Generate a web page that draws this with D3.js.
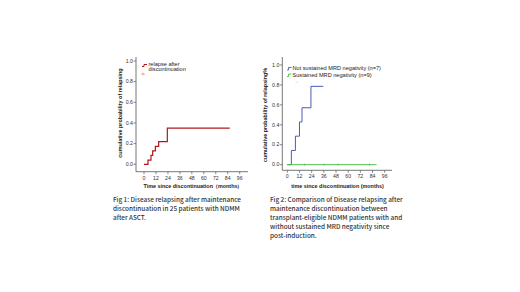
<!DOCTYPE html>
<html><head><meta charset="utf-8">
<script src="https://cdn.jsdelivr.net/npm/d3@7"></script>
<style>body{margin:0;background:#fff}svg{display:block}</style>
</head><body>
<svg id="c" width="520" height="292"></svg>
<script>
// ---- data ----
const xTicks = [0,12,24,36,48,60,72,84,96];
const yTicks = [0,0.2,0.4,0.6,0.8,1.0];
const yTickLabels = ["0.0","0.2","0.4","0.6","0.8","1.0"];
// Fig 1: step times (months) and cumulative probability
const relapseTimes = [0, 4, 7, 8.7, 11.4, 14.7, 23.4, 86];
const relapseProb  = [0, 0.04, 0.087, 0.13, 0.174, 0.22, 0.35, 0.35];
// Fig 2
const notSustTimes = [0, 4, 8, 12, 14.5, 23.3, 35.5];
const notSustProb  = [0, 0.143, 0.286, 0.429, 0.571, 0.786, 0.786];
const sustTimes = [0, 88];
const sustProb  = [0, 0];
const sustCensored = [17, 36, 50, 81];
const legend1 = ["relapse after", "discontinuation"];
const legend2 = ["Not sustained MRD negativity (n=7)", "Sustained MRD negativity (n=9)"];
const caption1 = ["Fig 1: Disease relapsing after maintenance","discontinuation in 25 patients with NDMM","after ASCT."];
const caption2 = ["Fig 2: Comparison of Disease relapsing after","maintenance discontinuation between","transplant-eligible NDMM patients with and","without sustained MRD negativity since","post-induction."];

const svg = d3.select("#c");
const font = "'Liberation Sans', Arial, sans-serif";

function stepPath(x, y, times, probs){
  const pts = times.map((t,i)=>[x(t), y(probs[i])]);
  return d3.line().curve(d3.curveStepAfter)(pts);
}

function panel(o){
  const x = d3.scaleLinear().domain([0,96]).range(o.xr);
  const y = d3.scaleLinear().domain([0,1]).range(o.yr);
  const g = svg.append("g");
  g.append("line").attr("x1",o.ax).attr("x2",o.ax).attr("y1",o.ayTop).attr("y2",o.ay)
    .attr("stroke","#555").attr("stroke-width",0.8);
  g.append("line").attr("x1",o.ax).attr("x2",o.axRight).attr("y1",o.ay).attr("y2",o.ay)
    .attr("stroke","#555").attr("stroke-width",0.8);
  yTicks.forEach((v,i)=>{
    g.append("line").attr("x1",o.ax-2.5).attr("x2",o.ax).attr("y1",y(v)).attr("y2",y(v)).attr("stroke","#555").attr("stroke-width",0.7);
    g.append("text").attr("x",o.ax-3).attr("y",y(v)+1.7).attr("text-anchor","end")
      .attr("font-family",font).attr("font-size",5.2).attr("fill","#333").text(yTickLabels[i]);
  });
  xTicks.forEach(v=>{
    g.append("line").attr("x1",x(v)).attr("x2",x(v)).attr("y1",o.ay).attr("y2",o.ay+2.5).attr("stroke","#555").attr("stroke-width",0.7);
    g.append("text").attr("x",x(v)).attr("y",o.ay+8).attr("text-anchor","middle")
      .attr("font-family",font).attr("font-size",5.2).attr("fill","#333").text(v);
  });
  g.append("text").attr("x",o.xtX).attr("y",o.xtY).attr("text-anchor","middle")
    .attr("font-family",font).attr("font-weight","bold").attr("font-size",5.4).attr("fill","#222").text(o.xTitle);
  g.append("text").attr("transform",`translate(${o.ytX},${o.ytY}) rotate(-90)`).attr("text-anchor","middle")
    .attr("font-family",font).attr("font-weight","bold").attr("font-size",5.4).attr("fill","#222").text(o.yTitle);
  return {x,y,g};
}

// Fig 1
const p1 = panel({xr:[144,239.7], yr:[164.3,61], ax:136, ay:171.7, ayTop:57, axRight:248,
  xTitle:"Time since discontinuation（months）", xtX:193, xtY:188,
  yTitle:"cumulative probability of relapsing", ytX:122, ytY:113});
p1.g.append("path").attr("d",stepPath(p1.x,p1.y,relapseTimes,relapseProb))
  .attr("fill","none").attr("stroke","#b3161e").attr("stroke-width",1.2);
p1.g.append("path").attr("d","M142,66.5 h2 v-2 h3").attr("fill","none").attr("stroke","#b3161e").attr("stroke-width",1);
p1.g.append("text").attr("x",148.5).attr("y",65.5).attr("font-family",font).attr("font-size",5.6).attr("fill","#222").text(legend1[0]);
p1.g.append("text").attr("x",148.5).attr("y",70.8).attr("font-family",font).attr("font-size",5.6).attr("fill","#222").text(legend1[1]);
p1.g.append("path").attr("d","M141,74 h4 M143,72.5 v3").attr("stroke","#f08a8a").attr("stroke-width",0.7);

// Fig 2
const p2 = panel({xr:[287.3,384.7], yr:[164.7,65], ax:282.3, ay:170.3, ayTop:57, axRight:392,
  xTitle:"time since discontinuation (months)", xtX:337.5, xtY:188,
  yTitle:"cumulative probability of relapsing%", ytX:266.5, ytY:115});
p2.g.append("path").attr("d",stepPath(p2.x,p2.y,notSustTimes,notSustProb))
  .attr("fill","none").attr("stroke","#4a5cba").attr("stroke-width",1);
p2.g.append("path").attr("d",stepPath(p2.x,p2.y,sustTimes,sustProb))
  .attr("fill","none").attr("stroke","#4cc24c").attr("stroke-width",1);
sustCensored.forEach(t=>{
  p2.g.append("line").attr("x1",p2.x(t)).attr("x2",p2.x(t)).attr("y1",p2.y(0)-1.2).attr("y2",p2.y(0)+1.2)
    .attr("stroke","#4cc24c").attr("stroke-width",0.6);
});
p2.g.append("path").attr("d","M287,70 h1.5 v-2.5 h3").attr("fill","none").attr("stroke","#4a5cba").attr("stroke-width",0.9);
p2.g.append("path").attr("d","M287,76.5 h1.5 v-2.5 h3").attr("fill","none").attr("stroke","#4cc24c").attr("stroke-width",0.9);
p2.g.append("text").attr("x",292.5).attr("y",70.3).attr("font-family",font).attr("font-size",5.6).attr("fill","#222").text(legend2[0]);
p2.g.append("text").attr("x",292.5).attr("y",76.8).attr("font-family",font).attr("font-size",5.6).attr("fill","#222").text(legend2[1]);
p2.g.append("line").attr("x1",295.5).attr("x2",298).attr("y1",82).attr("y2",82).attr("stroke","#ccc").attr("stroke-width",0.6);

// captions
const capFont = "'Noto Sans CJK SC','Noto Sans', sans-serif";
caption1.forEach((s,i)=>{
  svg.append("text").attr("x",113).attr("y",201.5+i*9).attr("font-family",capFont).attr("font-size",6.4)
    .attr("font-weight",500).attr("fill","#333").text(s);
});
caption2.forEach((s,i)=>{
  svg.append("text").attr("x",270).attr("y",201.5+i*9).attr("font-family",capFont).attr("font-size",6.4)
    .attr("font-weight",500).attr("fill","#333").text(s);
});
</script>
</body></html>
